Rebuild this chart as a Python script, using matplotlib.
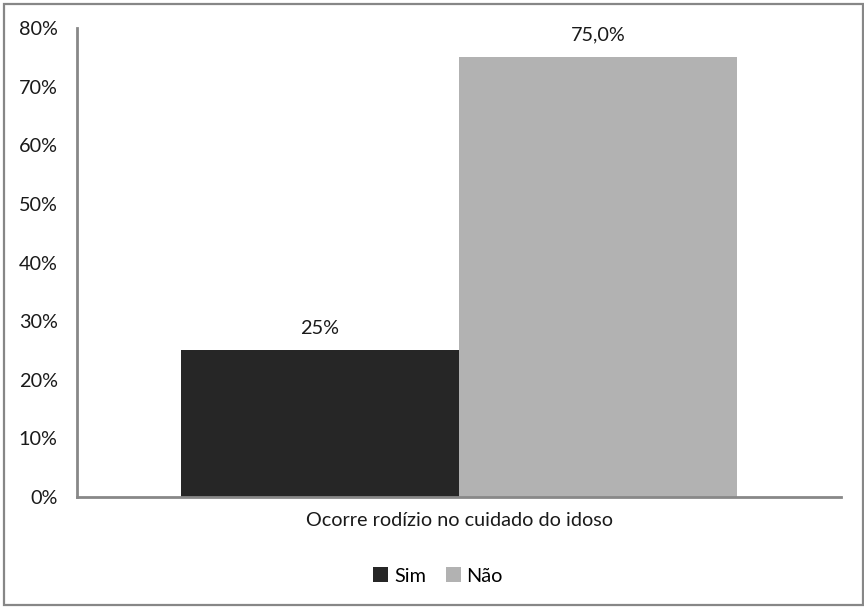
import matplotlib
matplotlib.use("Agg")
import matplotlib.pyplot as plt
from matplotlib.patches import Rectangle, Patch
from matplotlib.ticker import FuncFormatter, MultipleLocator

plt.rcParams['font.family'] = ['Lato', 'DejaVu Sans']

category = "Ocorre rodízio no cuidado do idoso"
series = ["Sim", "Não"]
values = [25.0, 75.0]
value_labels = ["25%", "75,0%"]
colors = ["#262626", "#B2B2B2"]

W, H = 864, 607
FS = 14.3
fig = plt.figure(figsize=(W / 100, H / 100), dpi=100)

# outer chart frame
fig.patches.append(Rectangle((3.5 / W, 1 - 605 / H), 859 / W, 601.5 / H,
                             transform=fig.transFigure, fill=False,
                             edgecolor="#878787", linewidth=1.6))

ax = fig.add_axes([77 / W, 1 - 497 / H, (841 - 77) / W, (497 - 28) / H])

bar_w = 278 / 764
offsets = [-bar_w / 2, bar_w / 2]
for name, val, lab, col, off in zip(series, values, value_labels, colors, offsets):
    ax.bar(off, val, width=bar_w, color=col, label=name)
    ax.annotate(lab, (off, val), xytext=(0, 10), textcoords="offset points",
                ha="center", va="bottom", fontsize=FS, color="#1a1a1a")

ax.set_xlim(-0.5, 0.5)
ax.set_ylim(0, 80)
ax.yaxis.set_major_locator(MultipleLocator(10))
ax.yaxis.set_major_formatter(FuncFormatter(lambda v, p: f"{v:.0f}%"))
ax.set_xticks([0])
ax.set_xticklabels([category])

for s in ["top", "right"]:
    ax.spines[s].set_visible(False)
for s in ["left", "bottom"]:
    ax.spines[s].set_color("#888888")
    ax.spines[s].set_linewidth(2)

ax.tick_params(axis="y", length=0, pad=14, labelsize=FS, labelcolor="#1a1a1a")
ax.tick_params(axis="x", length=0, pad=11, labelsize=FS, labelcolor="#1a1a1a")

handles = [Patch(facecolor=c, edgecolor="none") for c in colors]
fig.legend(handles, series, loc="center", bbox_to_anchor=(438 / W, 1 - 576 / H),
           ncol=2, frameon=False, fontsize=FS, handlelength=0.75, handleheight=0.75,
           handletextpad=0.3, columnspacing=1.0)

fig.savefig("out.png", dpi=100, facecolor="white")
